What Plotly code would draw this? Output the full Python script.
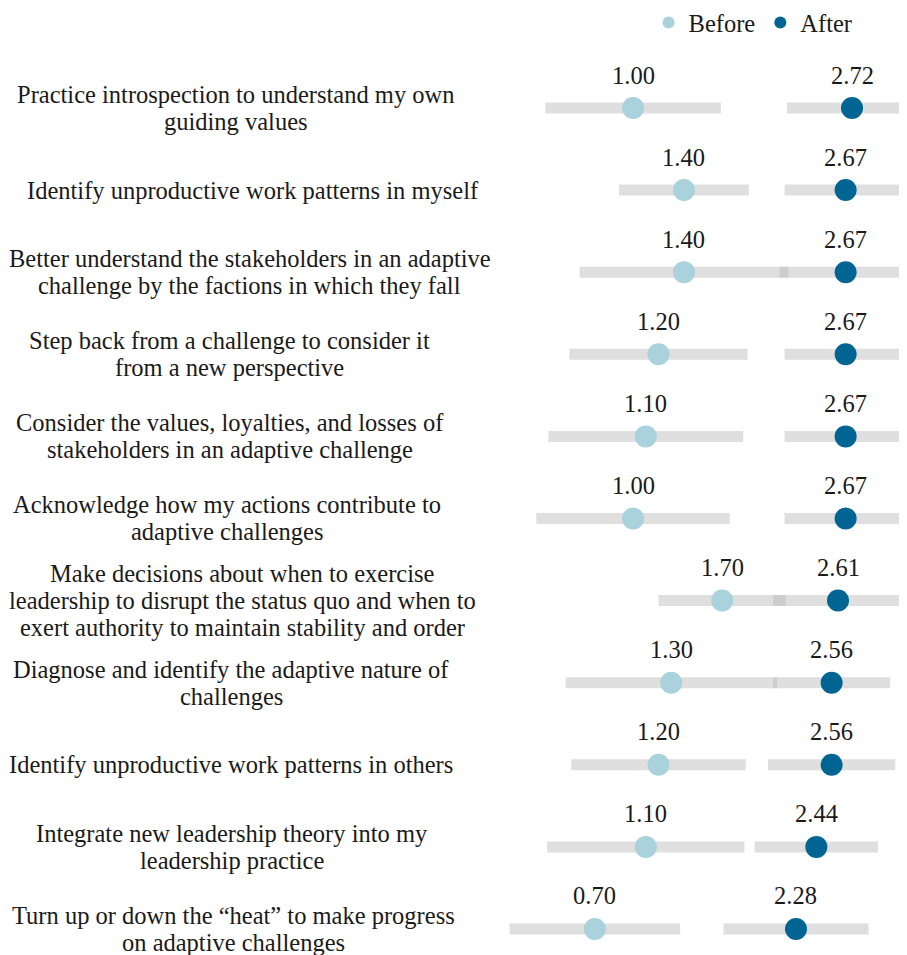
import plotly.graph_objects as go

labels = [
    "Practice introspection to understand my own<br>guiding values",
    "Identify unproductive work patterns in myself",
    "Better understand the stakeholders in an adaptive<br>challenge by the factions in which they fall",
    "Step back from a challenge to consider it<br>from a new perspective",
    "Consider the values, loyalties, and losses of<br>stakeholders in an adaptive challenge",
    "Acknowledge how my actions contribute to<br>adaptive challenges",
    "Make decisions about when to exercise<br>leadership to disrupt the status quo and when to<br>exert authority to maintain stability and order",
    "Diagnose and identify the adaptive nature of<br>challenges",
    "Identify unproductive work patterns in others",
    "Integrate new leadership theory into my<br>leadership practice",
    "Turn up or down the \u201cheat\u201d to make progress<br>on adaptive challenges",
]
before = [1.00, 1.40, 1.40, 1.20, 1.10, 1.00, 1.70, 1.30, 1.20, 1.10, 0.70]
after = [2.72, 2.67, 2.67, 2.67, 2.67, 2.67, 2.61, 2.56, 2.56, 2.44, 2.28]
before_spread = [0.69, 0.51, 0.82, 0.70, 0.765, 0.76, 0.50, 0.83, 0.685, 0.775, 0.67]
after_spread = [0.51, 0.48, 0.52, 0.48, 0.48, 0.48, 0.51, 0.46, 0.50, 0.485, 0.57]

# layout: horizontal centre (px) of each category label text block
LABEL_CENTER_PX = [228, 245, 242, 221, 222, 219, 235, 223, 223, 224, 225]

FONT = "Liberation Serif, Times New Roman, serif"
TXT = "#1a1a1a"
C_BEFORE = "#a9d2dc"
C_AFTER = "#006593"
BAR = "rgba(185,185,185,0.45)"

W, H = 899, 947  # page body adds an 8px margin
rows = list(range(len(labels)))

fig = go.Figure()
fig.add_trace(go.Scatter(
    x=before, y=rows, mode="markers", name="Before",
    marker=dict(color=C_BEFORE, size=22, line=dict(width=0)),
    error_x=dict(type="data", array=before_spread, symmetric=True,
                 thickness=11, width=0, color=BAR),
    hoverinfo="skip",
))
fig.add_trace(go.Scatter(
    x=after, y=rows, mode="markers", name="After",
    marker=dict(color=C_AFTER, size=22, line=dict(width=0)),
    error_x=dict(type="data", array=after_spread, symmetric=True,
                 thickness=11, width=0, color=BAR),
    hoverinfo="skip",
))

annotations = []
for i, (b, a) in enumerate(zip(before, after)):
    for v in (b, a):
        annotations.append(dict(
            x=v, y=i, xref="x", yref="y", text=f"{v:.2f}", showarrow=False,
            xanchor="center", yanchor="middle", yshift=33,
            font=dict(family=FONT, size=24.5, color=TXT),
        ))

LINE_H = 27
for i, lab in enumerate(labels):
    lines = lab.split("<br>")
    n = len(lines)
    for j, ln in enumerate(lines):
        annotations.append(dict(
            x=LABEL_CENTER_PX[i] / W, y=i, xref="paper", yref="y", text=ln,
            showarrow=False, xanchor="center", yanchor="middle",
            yshift=((n - 1) / 2 - j) * LINE_H,
            font=dict(family=FONT, size=24.5, color=TXT),
        ))

fig.update_layout(
    width=W, height=H,
    margin=dict(l=0, r=0, t=0, b=0, autoexpand=False),
    paper_bgcolor="white", plot_bgcolor="white",
    font=dict(family=FONT, size=24.5, color=TXT),
    xaxis=dict(visible=False, range=[-3.910, 3.152], fixedrange=True),
    yaxis=dict(visible=False, range=[10.317, -1.218], fixedrange=True),
    showlegend=True,
    legend=dict(orientation="h", x=0.7125, xanchor="left", y=1 + 8 / H, yanchor="top",
                itemsizing="constant", font=dict(family=FONT, size=24.5, color=TXT),
                bgcolor="rgba(0,0,0,0)", tracegroupgap=0, itemwidth=30),
    annotations=annotations,
)

fig.write_html("out.html")
